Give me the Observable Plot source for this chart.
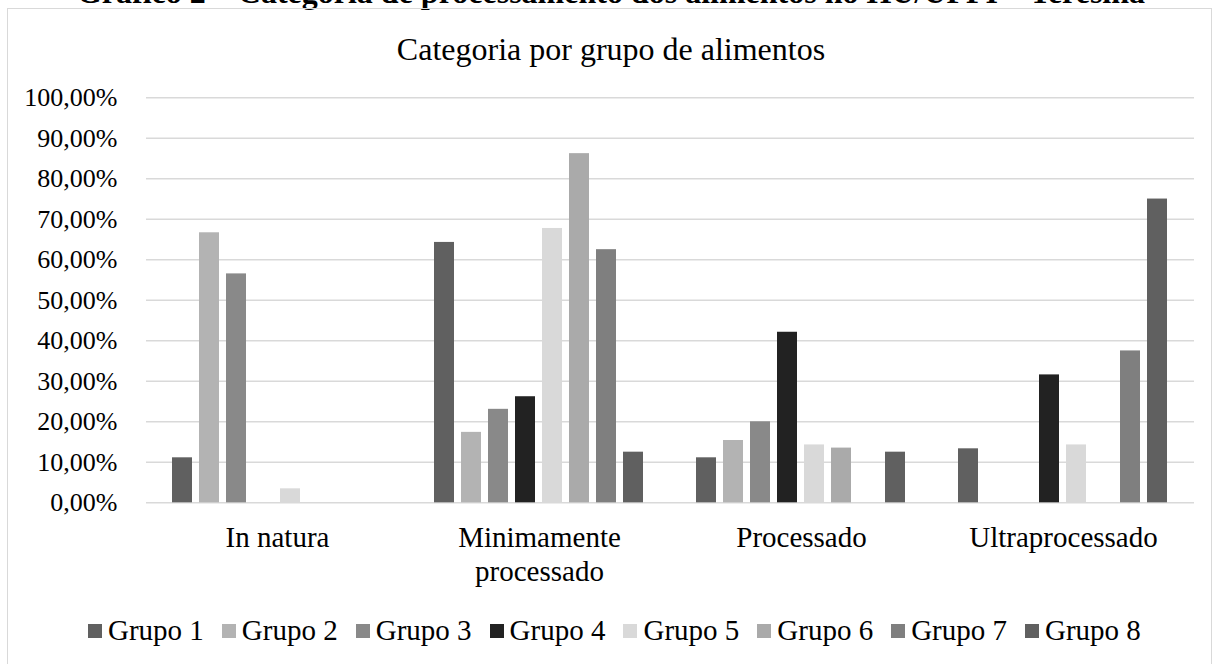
<!DOCTYPE html>
<html>
<head>
<meta charset="utf-8">
<script src="https://cdn.jsdelivr.net/npm/d3@7"></script>
<script src="https://cdn.jsdelivr.net/npm/@observablehq/plot@0.6"></script>
<style>
  html, body { margin: 0; padding: 0; background: #fff; }
  body { width: 1222px; height: 664px; overflow: hidden; position: relative; font-family: "Liberation Serif", "Times New Roman", serif; color: #000; }
  #caption { position: absolute; left: 0; top: -24px; width: 1222px; text-align: center; font-weight: bold; font-size: 32px; line-height: 1; white-space: nowrap; }
  #frame { position: absolute; left: 7px; top: 8px; width: 1205px; height: 700px; border: 1px solid #d9d9d9; box-sizing: border-box; }
  #title { position: absolute; left: 0; top: 33px; width: 1222px; text-align: center; font-size: 32px; line-height: 1; white-space: nowrap; }
  #chart { position: absolute; left: 0; top: 80px; }
  #chart svg text { font-family: "Liberation Serif", "Times New Roman", serif; }
  #legend { position: absolute; left: 88px; top: 616px; display: flex; align-items: center; gap: 18px; font-size: 29px; line-height: 29px; white-space: nowrap; }
  .item { display: flex; align-items: center; }
  .sw { width: 14px; height: 14px; margin-right: 6px; }
</style>
</head>
<body>
<div id="caption">Gráfico 2 – Categoria de processamento dos alimentos no HU/UFPI – Teresina</div>
<div id="frame"></div>
<div id="title">Categoria por grupo de alimentos</div>
<div id="chart"></div>
<div id="legend"></div>
<script>
const categories = ["In natura", "Minimamente processado", "Processado", "Ultraprocessado"];
const categoryLabels = ["In natura", "Minimamente\nprocessado", "Processado", "Ultraprocessado"];
const groups = ["Grupo 1", "Grupo 2", "Grupo 3", "Grupo 4", "Grupo 5", "Grupo 6", "Grupo 7", "Grupo 8"];
const colors = ["#606060", "#b3b3b3", "#898989", "#222222", "#d9d9d9", "#aaaaaa", "#7f7f7f", "#606060"];

// percentage values per category, one per group (null = no bar)
const inNatura    = [11.11, 66.67, 56.52, null, 3.45, null, null, null];
const minimamente = [64.29, 17.39, 23.08, 26.19, 67.74, 86.21, 62.50, 12.50];
const processado  = [11.11, 15.38, 20.00, 42.11, 14.29, 13.51, null, 12.50];
const ultra       = [13.33, null, null, 31.58, 14.29, null, 37.50, 75.00];
const yTicks = [0, 10, 20, 30, 40, 50, 60, 70, 80, 90, 100];

const series = [inNatura, minimamente, processado, ultra];
const data = [];
categories.forEach((c, ci) => {
  groups.forEach((g, gi) => {
    const v = series[ci][gi];
    if (v != null) data.push({cat: c, group: g, value: v});
  });
});

const fmt = d => d.toFixed(2).replace(".", ",") + "%";

const chart = Plot.plot({
  width: 1222,
  height: 520,
  marginTop: 17.3,
  marginBottom: 97.7,
  marginLeft: 145,
  marginRight: 28,
  style: {fontFamily: "Liberation Serif, Times New Roman, serif", background: "transparent", color: "#000", overflow: "visible"},
  fx: {domain: categories, padding: 0, label: null},
  x: {domain: groups, paddingInner: 0.242, paddingOuter: 0.847, axis: null},
  y: {domain: [0, 100], label: null},
  color: {domain: groups, range: colors},
  marks: [
    Plot.ruleY(yTicks, {stroke: "#d9d9d9", strokeWidth: 1.4}),
    Plot.barY(data, {fx: "cat", x: "group", y: "value", fill: "group"}),
    Plot.axisY({ticks: yTicks, tickSize: 0, tickPadding: 29, tickFormat: fmt, fontSize: 26, label: null}),
    Plot.axisFx({anchor: "bottom", tickSize: 0, tickPadding: 20, fontSize: 29, lineHeight: 1.17, label: null,
      tickFormat: d => categoryLabels[categories.indexOf(d)]})
  ]
});
document.getElementById("chart").appendChild(chart);

const legend = document.getElementById("legend");
groups.forEach((g, i) => {
  const item = document.createElement("div");
  item.className = "item";
  const sw = document.createElement("div");
  sw.className = "sw";
  sw.style.background = colors[i];
  const t = document.createElement("span");
  t.textContent = g;
  item.appendChild(sw);
  item.appendChild(t);
  legend.appendChild(item);
});
</script>
</body>
</html>
